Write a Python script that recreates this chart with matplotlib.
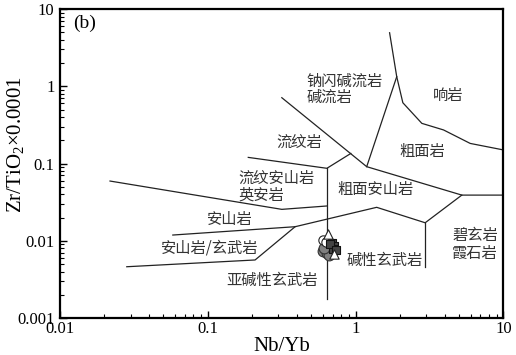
import numpy as np
import matplotlib
matplotlib.use("Agg")
import matplotlib.pyplot as plt

plt.rcParams['font.family'] = ['Liberation Serif', 'DejaVu Serif']
plt.rcParams['mathtext.fontset'] = 'custom'
plt.rcParams['mathtext.rm'] = 'Liberation Serif'
plt.rcParams['mathtext.it'] = 'Liberation Serif:italic'

# field boundaries (Nb/Yb, Zr/TiO2*0.0001)
bound_lines = [
    ([1.70, 1.90, 2.09, 2.81, 3.94, 5.97, 10.0], [4.93, 1.33, 0.612, 0.331, 0.272, 0.182, 0.150]),
    ([1.19, 1.90], [0.091, 1.33]),
    ([0.317, 1.19, 5.24, 10.0], [0.711, 0.091, 0.039, 0.039]),
    ([0.188, 0.64, 0.929], [0.120, 0.0867, 0.135]),
    ([0.64, 0.64], [0.0867, 0.00176]),
    ([0.0218, 0.317, 0.64], [0.0593, 0.0255, 0.0282]),
    ([0.058, 0.390, 1.39, 2.96, 5.24], [0.01186, 0.0152, 0.0271, 0.0171, 0.039]),
    ([2.96, 2.96], [0.0171, 0.00461]),
    ([0.0283, 0.209, 0.390], [0.00461, 0.00564, 0.0152]),
]

# samples
tri_x = [0.655, 0.72]
tri_y = [0.0122, 0.0068]
open_x = [0.605, 0.63]
open_y = [0.0102, 0.0095]
grey_x = [0.60, 0.64, 0.665, 0.615]
grey_y = [0.0074, 0.0069, 0.0066, 0.0080]
dark_x = [0.69, 0.72, 0.70, 0.67, 0.735]
dark_y = [0.0094, 0.0086, 0.0078, 0.0090, 0.0075]

# rock names
names = ['钠闪碱流岩', '碱流岩', '响岩', '流纹岩', '粗面岩', '流纹安山岩', '英安岩',
         '粗面安山岩', '安山岩', '安山岩/玄武岩', '碱性玄武岩', '亚碱性玄武岩', '碧玄岩', '霞石岩']
name_x = [0.468, 0.468, 4.24, 0.415, 2.81, 0.161, 0.161,
          1.36, 0.1416, 0.1037, 1.585, 0.271, 6.45, 6.45]
name_y = [1.16, 0.71, 0.755, 0.186, 0.145, 0.065, 0.0388,
          0.0463, 0.0191, 0.00798, 0.00564, 0.00304, 0.0117, 0.0069]
name_ha = ['left', 'left', 'center', 'center', 'center', 'left', 'left',
           'center', 'center', 'center', 'center', 'center', 'center', 'center']

fig = plt.figure(figsize=(5.16, 3.55), dpi=100)
ax = fig.add_axes([0.1163, 0.1042, 0.8591, 0.8704])

for xs, ys in bound_lines:
    ax.plot(xs, ys, color='#222222', lw=0.9)

ax.scatter(grey_x, grey_y, s=60, facecolor='#808080', edgecolor='#333333', lw=0.8, zorder=3)
ax.scatter(open_x, open_y, s=45, facecolor='white', edgecolor='#222222', lw=0.8, zorder=3)
ax.scatter(dark_x, dark_y, s=30, marker='s', facecolor='#444444', edgecolor='#111111', lw=0.8, zorder=4)
ax.scatter(tri_x, tri_y, s=45, marker='^', facecolor='white', edgecolor='#222222', lw=0.8, zorder=4)

for t, x, y, ha in zip(names, name_x, name_y, name_ha):
    ax.text(x, y, t, ha=ha, va='center', fontsize=11, color='#333333',
            family=['Noto Sans CJK SC', 'DejaVu Sans'])

ax.text(0.03, 0.955, '(b)', transform=ax.transAxes, fontsize=14, va='center', ha='left')

ax.set_xscale('log')
ax.set_yscale('log')
ax.set_xlim(0.01, 10)
ax.set_ylim(0.001, 10)
ax.set_xticks([0.01, 0.1, 1, 10])
ax.set_xticklabels(['0.01', '0.1', '1', '10'])
ax.set_yticks([0.001, 0.01, 0.1, 1, 10])
ax.set_yticklabels(['0.001', '0.01', '0.1', '1', '10'])
ax.tick_params(which='both', direction='in', top=False, right=False, labelsize=12)
ax.tick_params(axis='x', pad=2)
ax.tick_params(axis='y', pad=4)
ax.tick_params(which='major', length=5, width=1)
ax.tick_params(which='minor', length=3, width=0.8)
for s in ax.spines.values():
    s.set_linewidth(1.6)

ax.set_xlabel('Nb/Yb', fontsize=15, labelpad=0)
ax.set_ylabel(r'Zr/TiO$_2$×0.0001', fontsize=15)
ax.yaxis.set_label_coords(-0.077, 0.563)

fig.savefig('out.png', dpi=100)
